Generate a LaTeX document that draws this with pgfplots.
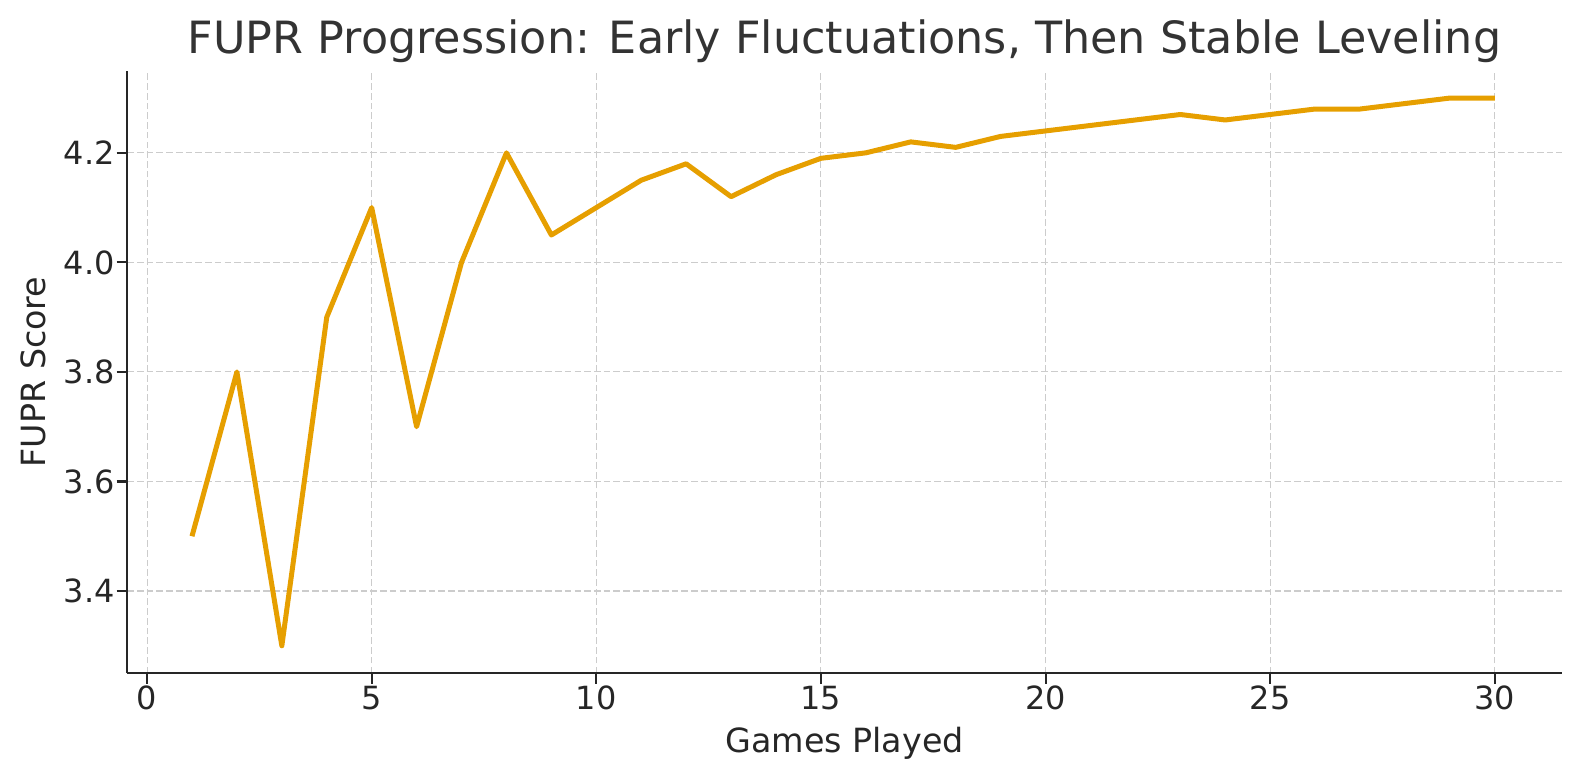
\documentclass[border=0pt]{standalone}
\usepackage{fontspec}
\setmainfont{DejaVu Sans}
\usepackage{pgfplots}
\pgfplotsset{compat=1.18}
\definecolor{lineorange}{HTML}{E69F00}
\definecolor{txt}{HTML}{333333}
\definecolor{gridc}{HTML}{CCCCCC}

\pgfplotstableread{
x y
1 3.50
2 3.80
3 3.30
4 3.90
5 4.10
6 3.70
7 4.00
8 4.20
9 4.05
10 4.10
11 4.15
12 4.18
13 4.12
14 4.16
15 4.19
16 4.20
17 4.22
18 4.21
19 4.23
20 4.24
21 4.25
22 4.26
23 4.27
24 4.26
25 4.27
26 4.28
27 4.28
28 4.29
29 4.30
30 4.30
}\fupr

\begin{document}
\begin{tikzpicture}
\begin{pgfinterruptboundingbox}
\begin{axis}[
    at={(0pt,0pt)}, anchor=south west,
    scale only axis,
    width=516.4pt, height=216.9pt,
    xmin=-0.44, xmax=31.49,
    ymin=3.25, ymax=4.35,
    xtick={0,5,...,30},
    ytick={3.4,3.6,3.8,4.0,4.2},
    yticklabel style={/pgf/number format/fixed, /pgf/number format/fixed zerofill,
                      /pgf/number format/precision=1, inner sep=0pt, xshift=-0.6pt},
    /pgf/number format/assume math mode=true,
    axis x line*=bottom, axis y line*=left,
    axis line style={line width=0.75pt, color=black!85},
    tick style={line width=0.75pt, color=black!85},
    tick align=outside, major tick length=3.8pt,
    xtick pos=bottom, ytick pos=left,
    grid=major,
    major grid style={gridc, line width=0.4pt, dash pattern=on 2.4pt off 1.1pt},
    tick label style={font=\fontsize{11.5}{13}\selectfont, color=black!85},
    xticklabel style={anchor=base, yshift=-9.2pt},
    xlabel={Games Played}, ylabel={FUPR Score},
    label style={font=\fontsize{12}{14}\selectfont, color=black!85},
    xlabel style={at={(axis description cs:0.5,-0.1319)}, anchor=base},
    ylabel style={at={(axis description cs:-0.0573,0.5)}, anchor=base},
    title={FUPR Progression: Early Fluctuations, Then Stable Leveling},
    title style={font=\fontsize{16}{19}\selectfont, color=txt,
                 at={(axis description cs:0.5,1.0277)}, anchor=base, yshift=-6pt},
]
\addplot[lineorange, line width=1.8pt, line join=round] table[x=x, y=y] {\fupr};
\end{axis}
\end{pgfinterruptboundingbox}
\path[use as bounding box] (-45.83pt,-38.41pt) rectangle (522.99pt,242.35pt);
\end{tikzpicture}
\end{document}
